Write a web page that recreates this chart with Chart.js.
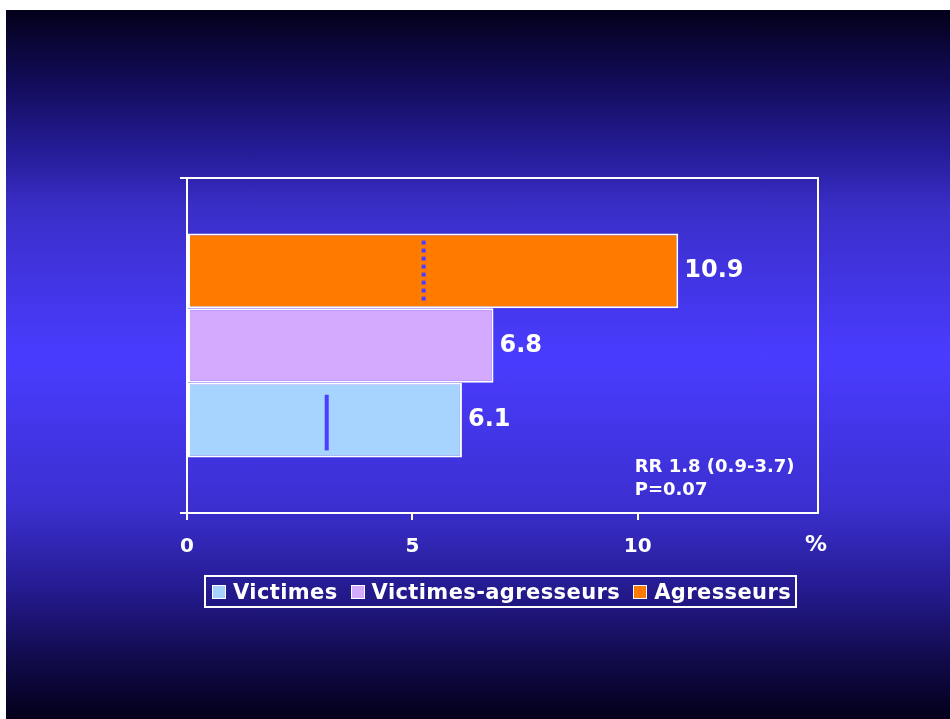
<!DOCTYPE html>
<html>
<head>
<meta charset="utf-8">
<script src="https://cdn.jsdelivr.net/npm/chart.js@4.4.1/dist/chart.umd.min.js"></script>
<style>
    html, body { margin: 0; padding: 0; background: #ffffff; }
    #bg {
        position: absolute; left: 6px; top: 10px; width: 944px; height: 709px;
        background: linear-gradient(to bottom, #03001a 0%, #120c58 10%, #251c98 20%, #3a2ec8 28%, #4a3cff 49%, #3b2fd0 70%, #241a8e 82%, #100a48 92%, #02001a 100%);
    }
    #wrap { position: absolute; left: 0; top: 0; width: 950px; height: 719px; }
    #legend {
        position: absolute; left: 204px; top: 575px; width: 589px; height: 29px;
        border: 2px solid #ffffff; box-sizing: content-box;
        display: flex; align-items: center; justify-content: flex-start; padding-left: 0;
        font-family: "DejaVu Sans", Verdana, sans-serif; font-weight: bold; font-size: 21px; color: #ffffff;
        letter-spacing: 0.4px; white-space: nowrap; overflow: hidden;
    }
    #legend .item { display: flex; align-items: center; margin-left: 6px; margin-right: 7px; }
    #legend .box { width: 12px; height: 12px; border: 1px solid #ffffff; margin-right: 7px; }
</style>
</head>
<body>
<div id="bg"></div>
<div id="wrap"><canvas id="barChart" width="950" height="719"></canvas></div>
<div id="legend"></div>
<script>
// Chart values
const categories = ['Victimes', 'Victimes-agresseurs', 'Agresseurs'];
const values = [6.1, 6.8, 10.9];
const markValues = [3.1, null, 5.25]; // vertical marks inside the bars
const xTicks = [0, 5, 10];
const xMax = 14;
const noteLines = ['RR 1.8 (0.9-3.7)', 'P=0.07'];

const barColors = ['#a6d4ff', '#d4aaff', '#ff7b00'];
const markColor = '#4d3dff';
const fontFamily = '"DejaVu Sans", Verdana, sans-serif';

// Build the legend in the same order as the categories
const legendEl = document.getElementById('legend');
categories.forEach((name, i) => {
    const item = document.createElement('div');
    item.className = 'item';
    item.innerHTML = '<span class="box" style="background:' + barColors[i] + '"></span>' + name;
    legendEl.appendChild(item);
});

// Agresseurs is drawn at the top, so the datasets go in reverse
const order = [2, 1, 0];
const datasets = order.map(i => ({
    label: categories[i],
    data: [values[i]],
    backgroundColor: barColors[i],
    borderColor: '#ffffff',
    borderWidth: 2,
    borderSkipped: false,
    categoryPercentage: 0.668,
    barPercentage: 1.0,
    srcIndex: i
}));

// Frame, value labels, marks and notes
const extrasPlugin = {
    id: 'extras',
    afterDatasetsDraw(chart) {
        const ctx = chart.ctx;
        const area = chart.chartArea;
        const xScale = chart.scales.x;
        ctx.save();

        // top and right frame lines
        ctx.strokeStyle = '#ffffff';
        ctx.lineWidth = 2;
        ctx.beginPath();
        ctx.moveTo(area.left, area.top);
        ctx.lineTo(area.right, area.top);
        ctx.lineTo(area.right, area.bottom);
        ctx.stroke();

        chart.data.datasets.forEach((ds, d) => {
            const bar = chart.getDatasetMeta(d).data[0];
            const i = ds.srcIndex;
            const top = bar.y - bar.height / 2;
            const bottom = bar.y + bar.height / 2;

            // value label at the bar end
            ctx.fillStyle = '#ffffff';
            ctx.font = 'bold 24px ' + fontFamily;
            ctx.textAlign = 'left';
            ctx.textBaseline = 'middle';
            ctx.fillText(values[i].toFixed(1), bar.x + 6, bar.y);

            // marks inside the bars
            if (markValues[i] !== null) {
                const mx = xScale.getPixelForValue(markValues[i]);
                ctx.fillStyle = markColor;
                if (i === 0) {
                    ctx.fillRect(mx - 2, top + 12, 4, bottom - top - 19);
                } else {
                    for (let y = top + 7; y < bottom - 8; y += 8) {
                        ctx.fillRect(mx - 2, y, 4, 4);
                    }
                }
            }
        });

        // % unit at the end of the axis
        ctx.fillStyle = '#ffffff';
        ctx.font = 'bold 22px ' + fontFamily;
        ctx.textAlign = 'center';
        ctx.textBaseline = 'middle';
        ctx.fillText('%', area.right - 2, area.bottom + 32);

        // RR / P note
        ctx.font = 'bold 18px ' + fontFamily;
        ctx.textAlign = 'left';
        noteLines.forEach((line, k) => {
            ctx.fillText(line, xScale.getPixelForValue(10) - 3, 467 + k * 23);
        });
        ctx.restore();
    }
};

const barCtx = document.getElementById('barChart').getContext('2d');
new Chart(barCtx, {
    type: 'bar',
    data: {
        labels: [''],
        datasets: datasets
    },
    options: {
        indexAxis: 'y',
        responsive: false,
        animation: false,
        layout: {
            padding: { left: 180, right: 132, top: 178, bottom: 156 }
        },
        scales: {
            x: {
                min: 0,
                max: xMax,
                afterFit: scale => { scale.height = 50; },
                afterBuildTicks: scale => { scale.ticks = xTicks.map(v => ({ value: v })); },
                ticks: {
                    color: '#ffffff',
                    font: { family: fontFamily, size: 20, weight: 'bold' },
                    padding: 15,
                    maxRotation: 0
                },
                grid: {
                    drawOnChartArea: false,
                    drawTicks: true,
                    tickLength: 7,
                    color: '#ffffff',
                    lineWidth: 2
                },
                border: { color: '#ffffff', width: 2 }
            },
            y: {
                afterFit: scale => { scale.width = 7; },
                ticks: { display: false },
                grid: {
                    offset: true,
                    drawOnChartArea: false,
                    drawTicks: true,
                    tickLength: 7,
                    color: '#ffffff',
                    lineWidth: 2
                },
                border: { color: '#ffffff', width: 2 }
            }
        },
        plugins: {
            legend: { display: false },
            tooltip: { enabled: false }
        }
    },
    plugins: [extrasPlugin]
});
</script>
</body>
</html>
